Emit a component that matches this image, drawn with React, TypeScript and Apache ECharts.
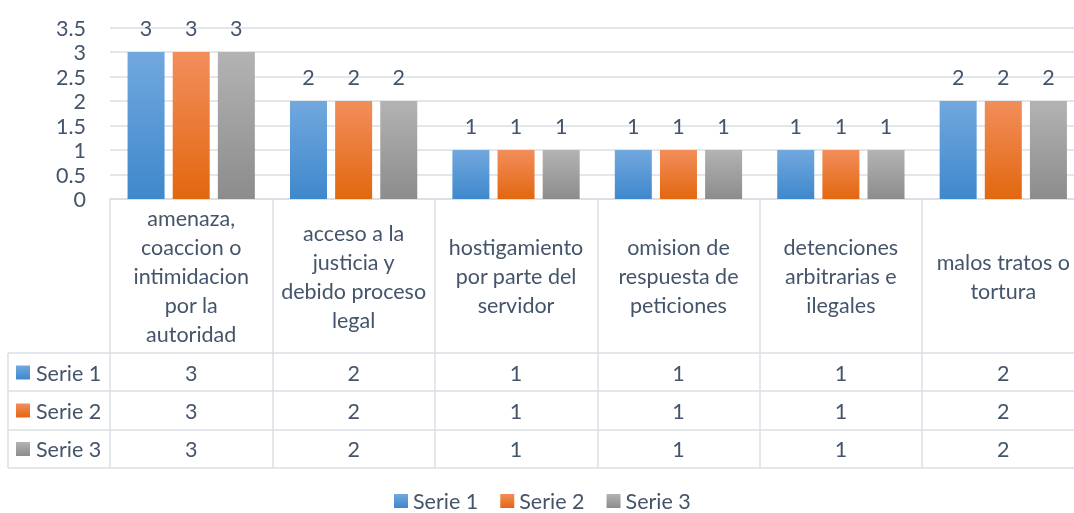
import React, { useEffect, useRef } from "react";
import * as echarts from "echarts";

const categories = [
  "amenaza,\ncoaccion o\nintimidacion\npor la\nautoridad",
  "acceso a la\njusticia y\ndebido proceso\nlegal",
  "hostigamiento\npor parte del\nservidor",
  "omision de\nrespuesta de\npeticiones",
  "detenciones\narbitrarias e\nilegales",
  "malos tratos o\ntortura",
];
const seriesNames = ["Serie 1", "Serie 2", "Serie 3"];
const serie1 = [3, 2, 1, 1, 1, 2];
const serie2 = [3, 2, 1, 1, 1, 2];
const serie3 = [3, 2, 1, 1, 1, 2];
const yTicks = { min: 0, max: 3.5, interval: 0.5 };

const FONT = "Lato, 'Noto Sans', sans-serif";
const FS = 21.5;
const TEXT = "#44546a";
const LINE = "#dadee5";

const grad = (top: string, bottom: string) =>
  new echarts.graphic.LinearGradient(0, 0, 0, 1, [
    { offset: 0, color: top },
    { offset: 1, color: bottom },
  ]);

const colors = [
  grad("#71a8de", "#3f88cc"),
  grad("#f28e5b", "#e2670f"),
  grad("#b3b3b3", "#8c8c8c"),
];

const rowY = [372.5, 410.5, 449];

export default function App() {
  const ref = useRef<HTMLDivElement>(null);
  useEffect(() => {
    if (!ref.current) return;
    const chart = echarts.init(ref.current, undefined, { renderer: "svg" });
    const values = [serie1, serie2, serie3];
    const barSeries = values.map((v, i) => ({
      name: seriesNames[i],
      type: "bar",
      data: v,
      barWidth: 37,
      barGap: "22%",
      itemStyle: { color: colors[i] },
      label: {
        show: true,
        position: "top",
        distance: 13,
        color: TEXT,
        fontSize: FS,
        fontFamily: FONT,
      },
    }));
    const tableSeries = {
      type: "custom",
      clip: false,
      silent: true,
      data: categories.map((_, i) => [i, serie1[i], serie2[i], serie3[i]]),
      encode: { x: 0, y: 1 },
      renderItem: (params: any, api: any) => {
        const x = api.coord([api.value(0), 0])[0];
        return {
          type: "group",
          children: rowY.map((y, r) => ({
            type: "text",
            x,
            y,
            style: {
              text: String(api.value(r + 1)),
              fill: TEXT,
              fontSize: FS,
              fontFamily: FONT,
              align: "center",
              verticalAlign: "middle",
            },
          })),
        };
      },
    };
    const hLines = [353, 391, 430, 468].map((y) => ({
      type: "line",
      shape: { x1: 8, y1: y, x2: 1090, y2: y },
      style: { stroke: LINE, lineWidth: 1.5 },
      silent: true,
    }));
    const leftCol = seriesNames.flatMap((n, i) => [
      {
        type: "rect",
        shape: { x: 16, y: rowY[i] - 7, width: 14, height: 14 },
        style: { fill: colors[i] },
      },
      {
        type: "text",
        x: 36,
        y: rowY[i],
        style: {
          text: n,
          fill: TEXT,
          fontSize: FS,
          fontFamily: FONT,
          verticalAlign: "middle",
        },
      },
    ]);
    chart.setOption({
      animation: false,
      grid: {
        left: 110,
        width: 974.5,
        top: 27.5,
        height: 171.5,
        outerBoundsMode: "none",
        containLabel: false,
      },
      legend: {
        data: seriesNames,
        left: 389,
        top: 485,
        icon: "rect",
        itemWidth: 14,
        itemHeight: 14,
        itemGap: 22,
        textStyle: { color: TEXT, fontSize: FS, fontFamily: FONT },
      },
      xAxis: {
        type: "category",
        data: categories,
        axisLine: { show: true, lineStyle: { color: LINE, width: 1.5 } },
        axisTick: {
          show: true,
          length: 269,
          interval: 0,
          lineStyle: { color: LINE, width: 1.5 },
        },
        axisLabel: {
          interval: 0,
          margin: 77,
          verticalAlign: "middle",
          color: TEXT,
          fontSize: FS,
          lineHeight: 29,
          fontFamily: FONT,
        },
      },
      yAxis: {
        type: "value",
        min: yTicks.min,
        max: yTicks.max,
        interval: yTicks.interval,
        axisLine: { show: false },
        axisTick: { show: false },
        splitLine: { lineStyle: { color: LINE, width: 1.5 } },
        axisLabel: { color: TEXT, fontSize: FS, fontFamily: FONT, margin: 24 },
      },
      series: [...barSeries, tableSeries],
      graphic: [
        ...hLines,
        {
          type: "line",
          shape: { x1: 8, y1: 353, x2: 8, y2: 468 },
          style: { stroke: LINE, lineWidth: 1.5 },
        },
        ...leftCol,
      ],
    });
    return () => chart.dispose();
  }, []);
  return (
    <div
      ref={ref}
      style={{ position: "fixed", left: 0, top: 0, width: 1074, height: 513 }}
    />
  );
}
